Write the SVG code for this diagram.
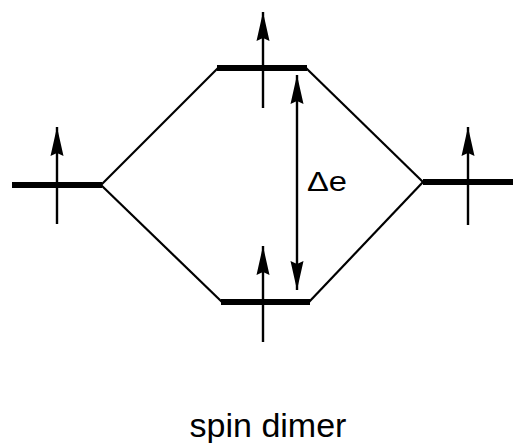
<svg xmlns="http://www.w3.org/2000/svg" width="514" height="443" viewBox="0 0 514 443">
<style>
.level{stroke:#000;stroke-width:6;fill:none}
.diag{stroke:#000;stroke-width:2.2;fill:none}
.spin{stroke:#000;stroke-width:2.4;fill:none}
.lbl{font-family:"Liberation Sans",Arial,sans-serif;fill:#000}
</style>
<defs>
<marker id="head" markerUnits="userSpaceOnUse" markerWidth="30" markerHeight="14" viewBox="0 -7 30 14" refX="29" refY="0" orient="auto-start-reverse">
<path d="M29 0 L0 -6.5 L3 0 L0 6.5 Z" fill="#000"/>
</marker>
</defs>
<rect width="514" height="443" fill="#fff"/>
<g id="connectors">
<line class="diag" x1="101" y1="185" x2="218" y2="68"/>
<line class="diag" x1="101" y1="185" x2="222" y2="302"/>
<line class="diag" x1="423" y1="182" x2="306" y2="68"/>
<line class="diag" x1="423" y1="182" x2="309" y2="302"/>
</g>
<g id="left-level">
<line class="level" x1="12" y1="185" x2="102" y2="185"/>
<line class="spin" x1="57" y1="224" x2="57" y2="127" marker-end="url(#head)"/>
</g>
<g id="top-level">
<line class="level" x1="217" y1="68" x2="307" y2="68"/>
<line class="spin" x1="263" y1="108" x2="263" y2="12" marker-end="url(#head)"/>
</g>
<g id="bottom-level">
<line class="level" x1="221" y1="302" x2="310" y2="302"/>
<line class="spin" x1="263" y1="342" x2="263" y2="246" marker-end="url(#head)"/>
</g>
<g id="right-level">
<line class="level" x1="423" y1="182" x2="513" y2="182"/>
<line class="spin" x1="468" y1="225" x2="468" y2="127" marker-end="url(#head)"/>
</g>
<g id="gap">
<line class="spin" x1="297" y1="75" x2="297" y2="290" marker-start="url(#head)" marker-end="url(#head)"/>
<text class="lbl" x="307" y="191" font-size="28" textLength="40" lengthAdjust="spacingAndGlyphs">Δe</text>
</g>
<g id="caption">
<text class="lbl" x="268" y="437" font-size="34" text-anchor="middle">spin dimer</text>
</g>
</svg>
